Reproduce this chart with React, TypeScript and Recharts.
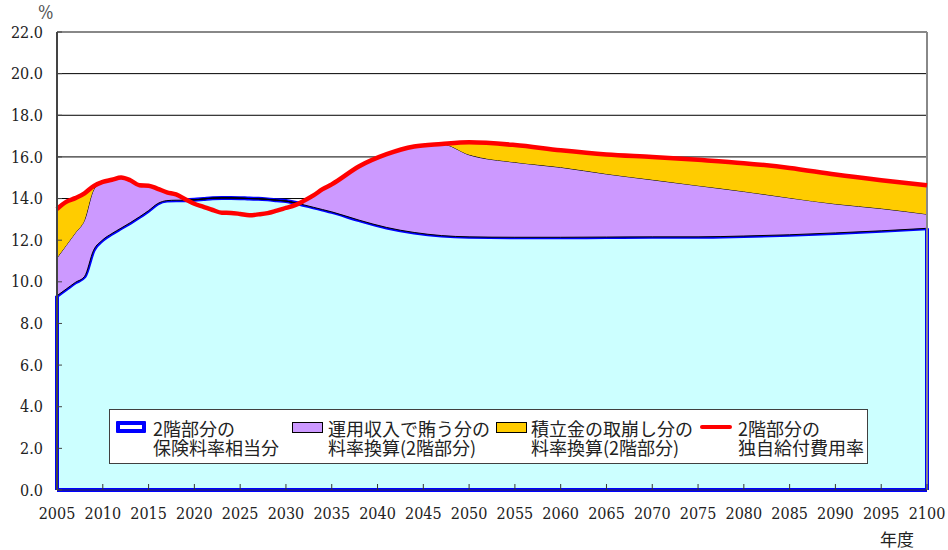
import { ComposedChart, Area, Line, XAxis, YAxis, CartesianGrid, ReferenceLine, Legend } from 'recharts';

const years = [
  2005, 2006, 2007, 2008, 2009, 2010, 2011, 2012, 2013, 2014, 2015, 2016, 2017, 2018, 2019, 2020,
  2021, 2022, 2023, 2024, 2025, 2026, 2027, 2028, 2029, 2030, 2031, 2032, 2033, 2034, 2035,
  2038, 2041, 2044, 2047, 2050, 2055, 2060, 2065, 2070, 2075, 2080, 2085, 2090, 2095, 2100,
];

// 2階部分の保険料率相当分
const hokenryo = [
  9.33, 9.65, 9.97, 10.25, 11.52, 12.02, 12.32, 12.58, 12.84, 13.12, 13.42, 13.76, 13.9, 13.92, 13.92, 13.94,
  13.98, 14.02, 14.03, 14.03, 14.02, 14.0, 13.99, 13.96, 13.92, 13.88, 13.8, 13.69, 13.58, 13.47, 13.36,
  12.96, 12.61, 12.37, 12.22, 12.16, 12.14, 12.14, 12.15, 12.16, 12.16, 12.2, 12.26, 12.35, 12.45, 12.57,
];

// 運用収入で賄う分の料率換算
const unyo = [
  1.82, 2.1, 2.38, 2.71, 2.9, 2.78, 2.58, 2.43, 2.04, 1.52, 1.2, 0.71, 0.4, 0.28, 0.05, 0,
  0, 0, 0, 0, 0, 0, 0, 0, 0, 0, 0, 0.21, 0.57, 0.98, 1.32,
  2.59, 3.52, 4.13, 4.4, 3.94, 3.6, 3.36, 3.03, 2.74, 2.46, 2.14, 1.77, 1.39, 1.07, 0.68,
];

// 積立金の取崩し分の料率換算
const torikuzushi = [
  2.35, 2.09, 1.67, 1.29, 0.18, 0, 0, 0, 0, 0, 0, 0, 0, 0, 0, 0,
  0, 0, 0, 0, 0, 0, 0, 0, 0, 0, 0, 0, 0, 0, 0,
  0, 0, 0, 0, 0.6, 0.83, 0.82, 0.94, 1.1, 1.24, 1.36, 1.44, 1.41, 1.36, 1.39,
];

// 2階部分の独自給付費用率
const hiyoritsu = [
  13.5, 13.84, 14.02, 14.25, 14.6, 14.8, 14.9, 15.01, 14.88, 14.64, 14.62, 14.47, 14.3, 14.2, 13.97, 13.75,
  13.6, 13.45, 13.32, 13.31, 13.26, 13.2, 13.24, 13.3, 13.42, 13.55, 13.68, 13.9, 14.15, 14.45, 14.68,
  15.55, 16.13, 16.5, 16.62, 16.7, 16.57, 16.32, 16.12, 16.0, 15.86, 15.7, 15.47, 15.15, 14.88, 14.64,
];

const xTicks = [2005, 2010, 2015, 2020, 2025, 2030, 2035, 2040, 2045, 2050, 2055, 2060, 2065, 2070, 2075, 2080, 2085, 2090, 2095, 2100];
const yTicks = [0, 2, 4, 6, 8, 10, 12, 14, 16, 18, 20, 22];

const seriesNames = ['2階部分の\n保険料率相当分', '運用収入で賄う分の\n料率換算(2階部分)', '積立金の取崩し分の\n料率換算(2階部分)', '2階部分の\n独自給付費用率'];

const data = years.map((year, i) => ({
  year,
  hokenryo: hokenryo[i],
  unyo: unyo[i],
  torikuzushi: torikuzushi[i],
  hiyoritsu: hiyoritsu[i],
}));

const BLUE = '#0000FF';
const CYAN = '#CCFFFF';
const PURPLE = '#CC99FF';
const YELLOW = '#FFCC00';
const RED = '#FF0000';

const serif = 'DejaVu Serif Condensed, DejaVu Serif, serif';
const jp = 'Noto Sans CJK JP';

function LegendIcon({ index }: { index: number }) {
  if (index === 0) {
    return <div style={{ position: 'absolute', left: 6, top: 11, width: 30, height: 12, boxSizing: 'border-box', border: `4px solid ${BLUE}`, background: '#fff', borderRadius: 1 }} />;
  }
  if (index === 3) {
    return <div style={{ position: 'absolute', left: 590, top: 15, width: 32, height: 4, background: RED, borderRadius: 2 }} />;
  }
  const left = index === 1 ? 182 : 386;
  return <div style={{ position: 'absolute', left, top: 12, width: 31, height: 11, boxSizing: 'border-box', border: '1.5px solid #000', background: index === 1 ? PURPLE : YELLOW }} />;
}

function ChartLegend() {
  const textLeft = [43, 218, 421, 628];
  return (
    <div style={{ position: 'relative', width: 759, height: 55, boxSizing: 'border-box', background: '#fff', border: '1px solid #404040', fontFamily: jp, fontSize: 18, lineHeight: '18.5px', color: '#222' }}>
      {seriesNames.map((name, i) => (
        <div key={i}>
          <LegendIcon index={i} />
          <div style={{ position: 'absolute', left: textLeft[i], top: 9, whiteSpace: 'pre' }}>{name}</div>
        </div>
      ))}
    </div>
  );
}

export default function App() {
  return (
    <div style={{ position: 'absolute', left: 0, top: 0, width: 948, height: 550, background: '#fff', fontFamily: serif }}>
      <ComposedChart width={948} height={550} data={data} margin={{ top: 32, right: 21, bottom: 20, left: 0 }}>
        <CartesianGrid vertical={false} stroke="#000" strokeWidth={1} />
        <Area type="monotone" dataKey="hokenryo" name={seriesNames[0]} stackId="a" stroke={BLUE} strokeWidth={4} fill={CYAN} fillOpacity={1} isAnimationActive={false} />
        <Area type="monotone" dataKey="unyo" name={seriesNames[1]} stackId="a" stroke="#000" strokeWidth={1} fill={PURPLE} fillOpacity={1} isAnimationActive={false} />
        <Area type="monotone" dataKey="torikuzushi" name={seriesNames[2]} stackId="a" stroke="#000" strokeWidth={1} fill={YELLOW} fillOpacity={1} isAnimationActive={false} />
        <Line type="monotone" dataKey="hokenryo" stroke="#000" strokeWidth={1} dot={false} activeDot={false} legendType="none" isAnimationActive={false} />
        <ReferenceLine segment={[{ x: years[0], y: 0 }, { x: years[0], y: hokenryo[0] }]} stroke={BLUE} strokeWidth={4} />
        <ReferenceLine segment={[{ x: years[years.length - 1], y: 0 }, { x: years[years.length - 1], y: hokenryo[hokenryo.length - 1] }]} stroke={BLUE} strokeWidth={4} />
        <ReferenceLine segment={[{ x: years[0], y: 0 }, { x: years[years.length - 1], y: 0 }]} stroke={BLUE} strokeWidth={4} />
        <ReferenceLine y={22} stroke="#888" strokeWidth={2} />
        <ReferenceLine x={2100} stroke="#888" strokeWidth={2} />
        <Line type="monotone" dataKey="hiyoritsu" name={seriesNames[3]} stroke={RED} strokeWidth={4.5} dot={false} activeDot={false} isAnimationActive={false} />
        <XAxis
          dataKey="year"
          type="number"
          domain={[2005, 2100]}
          ticks={xTicks}
          interval={0}
          height={40}
          axisLine={{ stroke: '#333', strokeWidth: 1 }}
          tickLine={{ stroke: '#333' }}
          tickSize={-6}
          tickMargin={24}
          tick={{ fill: '#222', fontSize: 16, fontFamily: serif }}
        />
        <YAxis
          type="number"
          domain={[0, 22]}
          ticks={yTicks}
          interval={0}
          width={57}
          axisLine={{ stroke: '#444', strokeWidth: 2 }}
          tickLine={{ stroke: '#444' }}
          tickSize={-5}
          tickMargin={19}
          tickFormatter={(v: number) => v.toFixed(1)}
          tick={{ fill: '#222', fontSize: 16, fontFamily: serif }}
        />
        <Legend
          layout="horizontal"
          verticalAlign="middle"
          align="center"
          wrapperStyle={{ left: 109, top: 409, width: 759, height: 55 }}
          content={() => <ChartLegend />}
        />
      </ComposedChart>
      <div style={{ position: 'absolute', left: 38, top: 4, fontFamily: serif, fontSize: 18, lineHeight: '18px', color: '#555' }}>%</div>
      <div style={{ position: 'absolute', left: 880, top: 530, fontFamily: jp, fontSize: 17, lineHeight: '17px', color: '#222' }}>年度</div>
    </div>
  );
}
